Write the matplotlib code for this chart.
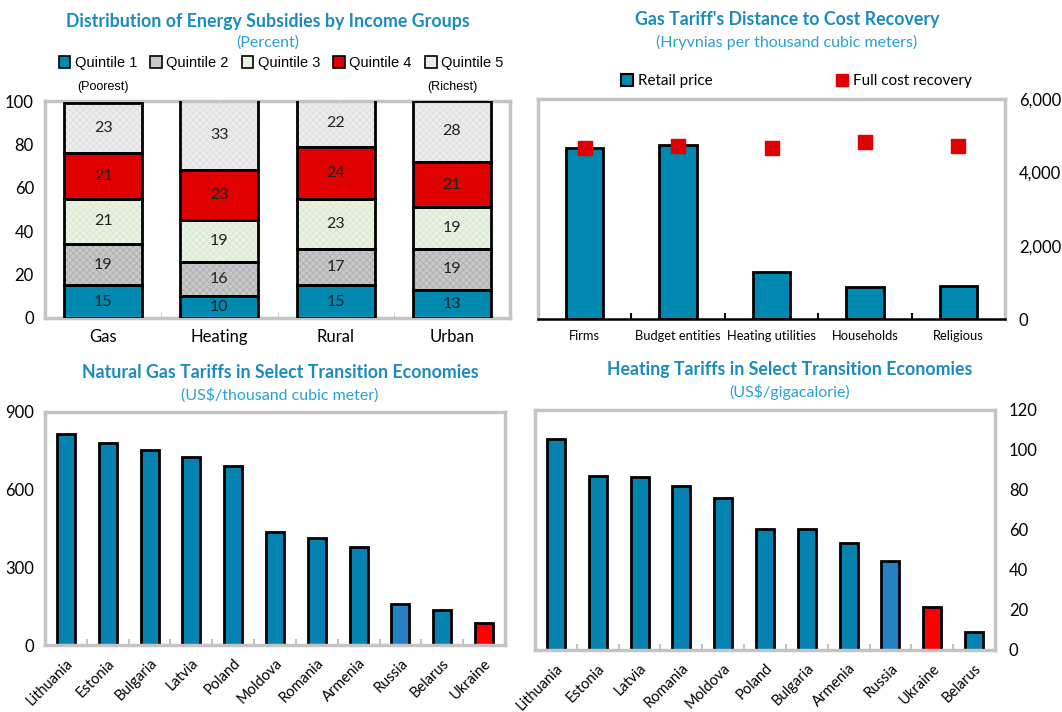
import matplotlib
matplotlib.use("Agg")
import matplotlib.pyplot as plt
from matplotlib.patches import Patch
import numpy as np

# -----------------------------
# Data
# -----------------------------

groups = ["Gas", "Heating", "Rural", "Urban"]
quintile_names = ["Quintile 1", "Quintile 2", "Quintile 3", "Quintile 4", "Quintile 5"]
q1 = [15, 10, 15, 13]
q2 = [19, 16, 17, 19]
q3 = [21, 19, 23, 19]
q4 = [21, 23, 24, 21]
q5 = [23, 33, 22, 28]

consumers = ["Firms", "Budget entities", "Heating utilities", "Households", "Religious"]
retail_price = [4655, 4745, 1290, 875, 900]
full_cost = [4655, 4725, 4655, 4815, 4725]

gas_countries = ["Lithuania", "Estonia", "Bulgaria", "Latvia", "Poland", "Moldova",
                 "Romania", "Armenia", "Russia", "Belarus", "Ukraine"]
gas_tariff = [816, 782, 752, 726, 692, 435, 414, 379, 158, 135, 86]

heat_countries = ["Lithuania", "Estonia", "Latvia", "Romania", "Moldova", "Poland",
                  "Bulgaria", "Armenia", "Russia", "Ukraine", "Belarus"]
heat_tariff = [105.5, 87.2, 86.3, 82.2, 75.8, 60.5, 60.5, 53.3, 44.5, 21.7, 9.2]

# -----------------------------
# Styling
# -----------------------------

TEAL = "#0089B0"
BAR_BLUE = "#0682B0"
RUSSIA_BLUE = "#2580C3"
RED = "#E00000"
UKR_RED = "#FF0000"
TITLE_C = "#1B8BBF"
SUB_C = "#2A9FD3"
FRAME = "#C4C4C4"

plt.rcParams["font.family"] = ["Lato", "DejaVu Sans"]
plt.rcParams["hatch.linewidth"] = 0.5

W, H = 1062, 712
fig = plt.figure(figsize=(W / 100, H / 100), dpi=100)


def box(l, t, r, b):
    return [l / W, 1 - b / H, (r - l) / W, (b - t) / H]


def frame(ax, bottom_color=FRAME, bottom_lw=2.5):
    for s in ["top", "left", "right"]:
        ax.spines[s].set_color(FRAME)
        ax.spines[s].set_linewidth(2.5)
    ax.spines["bottom"].set_color(bottom_color)
    ax.spines["bottom"].set_linewidth(bottom_lw)


def titles(x, y, title, sub):
    fig.text(x / W, 1 - y / H, title, ha="center", va="center", fontsize=12.8,
             fontweight="bold", color=TITLE_C)
    fig.text(x / W, 1 - (y + 22) / H, sub, ha="center", va="center", fontsize=11.5,
             color=SUB_C)


# -----------------------------
# 1. Stacked bars by income quintile
# -----------------------------

ax1 = fig.add_axes(box(45, 101, 510, 318))
x = np.arange(len(groups))
layers = [q1, q2, q3, q4, q5]
faces = [TEAL, "#C8C8C8", "#E8F3E2", RED, "#ECECEC"]
hatches = [None, "xxxxx", "xxxxx", None, "xxxxx"]
hatch_cols = ["black", "#ABABAB", "#D8E7D0", "black", "#DCDCDC"]
bottom = np.zeros(len(groups))
for vals, fc, hc, hcol in zip(layers, faces, hatches, hatch_cols):
    with plt.rc_context({"hatch.color": hcol}):
        ax1.bar(x, vals, 0.67, bottom=bottom, color=fc, hatch=hc, linewidth=0,
                zorder=2)
    ax1.bar(x, vals, 0.67, bottom=bottom, fill=False, edgecolor="black",
            linewidth=2, zorder=3)
    for xi, b, v in zip(x, bottom, vals):
        ax1.text(xi, b + v / 2, str(v), ha="center", va="center", fontsize=11.5,
                 color="#222222", zorder=4)
    bottom += np.array(vals)

ax1.set_xlim(-0.5, len(groups) - 0.5)
ax1.set_ylim(0, 100)
ax1.set_yticks(range(0, 101, 20))
ax1.set_xticks(x)
ax1.set_xticklabels(groups, fontsize=12)
ax1.set_xticks(np.arange(0.5, len(groups) - 1, 1), minor=True)
ax1.tick_params(axis="x", which="major", length=0, pad=8)
ax1.tick_params(axis="x", which="minor", length=4, direction="in", color=FRAME)
ax1.tick_params(axis="y", length=0, labelsize=12, pad=8)
frame(ax1)
ax1.text(0, 1.035, "(Poorest)", transform=ax1.get_xaxis_transform(), ha="center",
         va="bottom", fontsize=9, family="Liberation Sans")
ax1.text(3, 1.035, "(Richest)", transform=ax1.get_xaxis_transform(), ha="center",
         va="bottom", fontsize=9, family="Liberation Sans")

titles(268, 21, "Distribution of Energy Subsidies by Income Groups", "(Percent)")
q_handles = [Patch(facecolor=fc, edgecolor="black", linewidth=1.2) for fc in faces]
fig.legend(q_handles, quintile_names, loc="center", bbox_to_anchor=(281 / W, 1 - 63 / H),
           ncol=5, frameon=False, handlelength=0.8, handleheight=0.8,
           handletextpad=0.3, columnspacing=0.9,
           prop={"family": "Liberation Sans", "size": 10.5})

# -----------------------------
# 2. Gas tariff vs cost recovery
# -----------------------------

ax2 = fig.add_axes(box(538, 99, 1005, 319))
x2 = np.arange(len(consumers))
ax2.bar(x2, retail_price, 0.4, color=TEAL, edgecolor="black", linewidth=2, zorder=2)
ax2.scatter(x2, full_cost, marker="s", s=105, color=RED, zorder=3)
ax2.set_xlim(-0.5, len(consumers) - 0.5)
ax2.set_ylim(0, 6000)
ax2.set_yticks(range(0, 6001, 2000))
ax2.set_yticklabels([f"{v:,}" for v in range(0, 6001, 2000)])
ax2.yaxis.tick_right()
ax2.tick_params(axis="y", length=0, labelsize=12, pad=10)
ax2.set_xticks(x2)
ax2.set_xticklabels(consumers, fontsize=9.3)
ax2.set_xticks(np.arange(0.5, len(consumers) - 1, 1), minor=True)
ax2.tick_params(axis="x", which="major", length=0, pad=8)
ax2.tick_params(axis="x", which="minor", length=4, direction="in", color="black", width=1.5)
frame(ax2, bottom_color="black", bottom_lw=1.8)

titles(787, 20, "Gas Tariff's Distance to Cost Recovery",
       "(Hryvnias per thousand cubic meters)")
leg_handles = [Patch(facecolor=TEAL, edgecolor="black", linewidth=1.5),
               Patch(facecolor=RED, edgecolor=RED)]
fig.legend(leg_handles[:1], ["Retail price"], loc="center left",
           bbox_to_anchor=(607 / W, 1 - 81 / H), frameon=False, fontsize=11,
           handlelength=0.8, handleheight=0.9, handletextpad=0.3)
fig.legend(leg_handles[1:], ["Full cost recovery"], loc="center left",
           bbox_to_anchor=(822 / W, 1 - 81 / H), frameon=False, fontsize=11,
           handlelength=0.8, handleheight=0.9, handletextpad=0.3)

# -----------------------------
# 3. Natural gas tariffs
# -----------------------------


def country_bars(ax, names, vals):
    cols = [RUSSIA_BLUE if n == "Russia" else UKR_RED if n == "Ukraine" else BAR_BLUE
            for n in names]
    xs = np.arange(len(names))
    ax.bar(xs, vals, 0.43, color=cols, edgecolor="black", linewidth=2, zorder=2)
    ax.set_xlim(-0.5, len(names) - 0.5)
    ax.set_xticks(xs)
    ax.set_xticklabels(names, rotation=45, ha="right", rotation_mode="anchor",
                       fontsize=10.5)
    ax.set_xticks(np.arange(0.5, len(names) - 1, 1), minor=True)
    ax.tick_params(axis="x", which="major", length=0, pad=8)
    ax.tick_params(axis="x", which="minor", length=4, direction="in", color=FRAME,
                   width=1.5)
    ax.tick_params(axis="y", length=0, labelsize=12, pad=8)
    frame(ax)


ax3 = fig.add_axes(box(45, 412, 505, 645))
country_bars(ax3, gas_countries, gas_tariff)
ax3.set_ylim(0, 900)
ax3.set_yticks(range(0, 901, 300))
titles(280, 373, "Natural Gas Tariffs in Select Transition Economies",
       "(US$/thousand cubic meter)")

# -----------------------------
# 4. Heating tariffs
# -----------------------------

ax4 = fig.add_axes(box(535, 410, 995, 650))
country_bars(ax4, heat_countries, heat_tariff)
ax4.set_ylim(0, 120)
ax4.set_yticks(range(0, 121, 20))
ax4.yaxis.tick_right()
ax4.tick_params(axis="y", length=0, labelsize=12, pad=10)
titles(790, 370, "Heating Tariffs in Select Transition Economies",
       "(US$/gigacalorie)")

fig.savefig("out.png", dpi=100)
